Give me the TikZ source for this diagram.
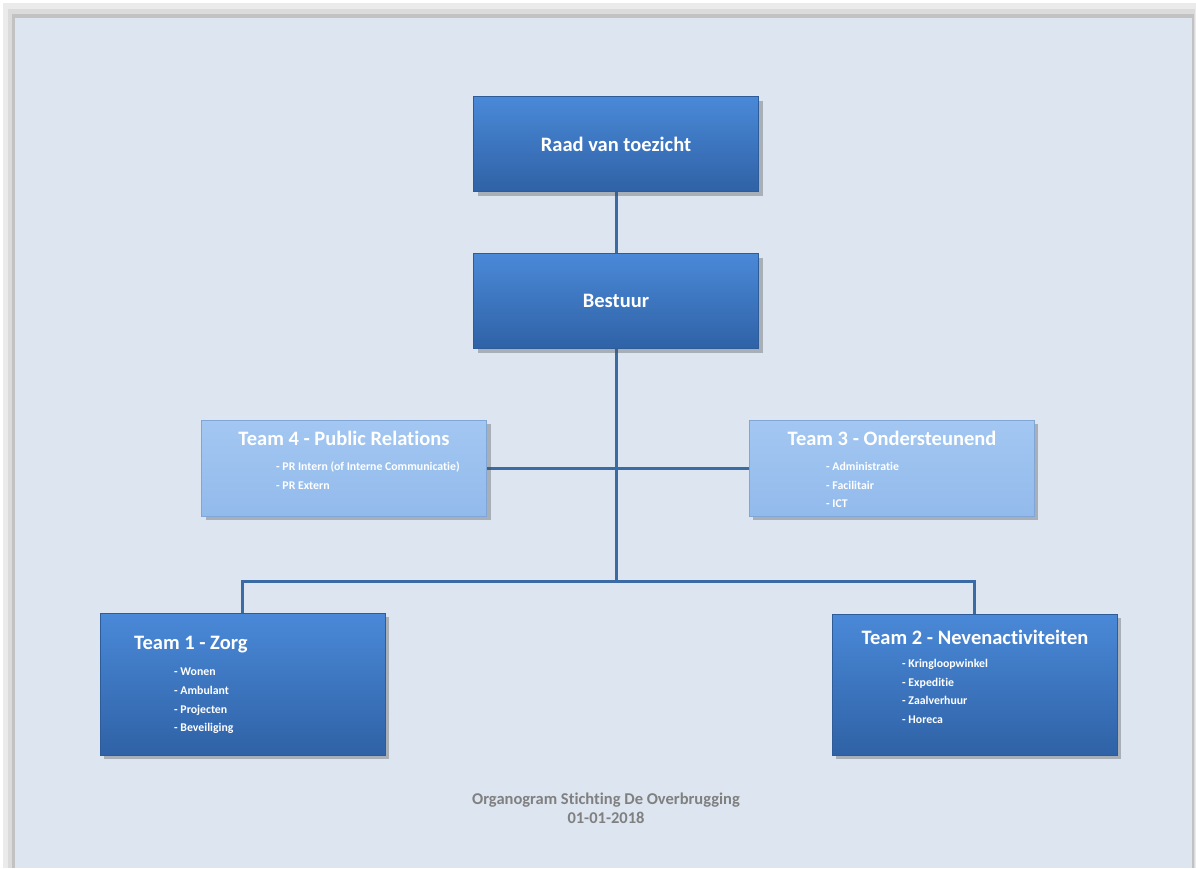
\documentclass[tikz,border=0pt]{standalone}
\usepackage{fontspec}
\setmainfont{Carlito}[Ligatures=NoCommon]
\usetikzlibrary{shadows,backgrounds}

\definecolor{panelbg}{HTML}{DCE5F0}
\definecolor{darktop}{HTML}{4A89D8}
\definecolor{darkbot}{HTML}{2F62A6}
\definecolor{darkedge}{HTML}{2D5C98}
\definecolor{lighttop}{HTML}{A3C7F2}
\definecolor{lightbot}{HTML}{92BAEB}
\definecolor{lightedge}{HTML}{7FA6D6}
\definecolor{linkcol}{HTML}{3A6BA5}
\definecolor{captioncol}{HTML}{808080}

\tikzset{
  darkbox/.style={rectangle,draw=darkedge,line width=0.8pt,top color=darktop,bottom color=darkbot,
    minimum width=285,minimum height=95,inner sep=0pt,
    drop shadow={shadow xshift=4pt,shadow yshift=-4pt,opacity=0.35,fill=black!70}},
  lightbox/.style={rectangle,draw=lightedge,line width=0.8pt,top color=lighttop,bottom color=lightbot,
    minimum width=285,minimum height=96,inner sep=0pt,
    drop shadow={shadow xshift=4pt,shadow yshift=-4pt,opacity=0.35,fill=black!70}},
  toptext/.style={text=white,font=\fontsize{20.5}{22}\selectfont\bfseries},
  teamtitle/.style={text=white,inner sep=0pt,font=\fontsize{20.5}{22}\selectfont\bfseries},
  itemlist/.style={text=white,inner sep=0pt,anchor=north west,align=left,
    font=\fontsize{11.8}{18.7}\selectfont\bfseries},
  link/.style={draw=linkcol,line width=3pt}
}

\begin{document}
\begin{tikzpicture}[x=1pt,y=-1pt]

  \useasboundingbox (0,0) rectangle (1196,868);

  % frame and soft shadow round the panel
  \begin{scope}[on background layer]
    \fill[white] (0,0) rectangle (1196,868);
    \fill[black!8] (3,3) rectangle (1196,868);
    \fill[black!14] (8,9) rectangle (1195,868);
    \fill[black!24] (12,14) rectangle (1194,868);
    \fill[panelbg] (15,18) rectangle (1192,868);
  \end{scope}

  % Specification of nodes
  \node[darkbox,toptext] (raad) at (616,144) {Raad van toezicht};
  \node[darkbox,toptext] (bestuur) at (616,301) {Bestuur};

  \node[lightbox] (team4) at (344,468) {};
  \node[lightbox] (team3) at (891.5,468) {};
  \node[darkbox,minimum height=142] (team1) at (242.5,684) {};
  \node[darkbox,minimum height=141] (team2) at (974.5,684.5) {};

  \node[teamtitle] (t4title) at (344,438) {Team 4 - Public Relations};
  \node[itemlist] (t4items) at (276,462) {- PR Intern (of Interne Communicatie)\\- PR Extern};

  \node[teamtitle] (t3title) at (892,438) {Team 3 - Ondersteunend};
  \node[itemlist] (t3items) at (826,462) {- Administratie\\- Facilitair\\- ICT};

  \node[teamtitle,anchor=west] (t1title) at (134,645) {Team 1 - Zorg};
  \node[itemlist] (t1items) at (174,668) {- Wonen\\- Ambulant\\- Projecten\\- Beveiliging};

  \node[teamtitle] (t2title) at (975,637) {Team 2 - Nevenactiviteiten};
  \node[itemlist] (t2items) at (902,659) {- Kringloopwinkel\\- Expeditie\\- Zaalverhuur\\- Horeca};

  \node[text=captioncol,align=center,font=\fontsize{16.5}{19}\selectfont\bfseries] (caption) at (606,808.5)
    {Organogram Stichting De Overbrugging\\01-01-2018};

  \coordinate (split) at (616,581);

  % connectors, behind the boxes
  \begin{scope}[on background layer]
    \draw[link] (raad) -- (bestuur);
    \draw[link] (bestuur) -- (split);
    \draw[link] (team4) -- (team3);
    \draw[link] (team1.north) |- (split) -| (team2.north);
  \end{scope}

\end{tikzpicture}
\end{document}
